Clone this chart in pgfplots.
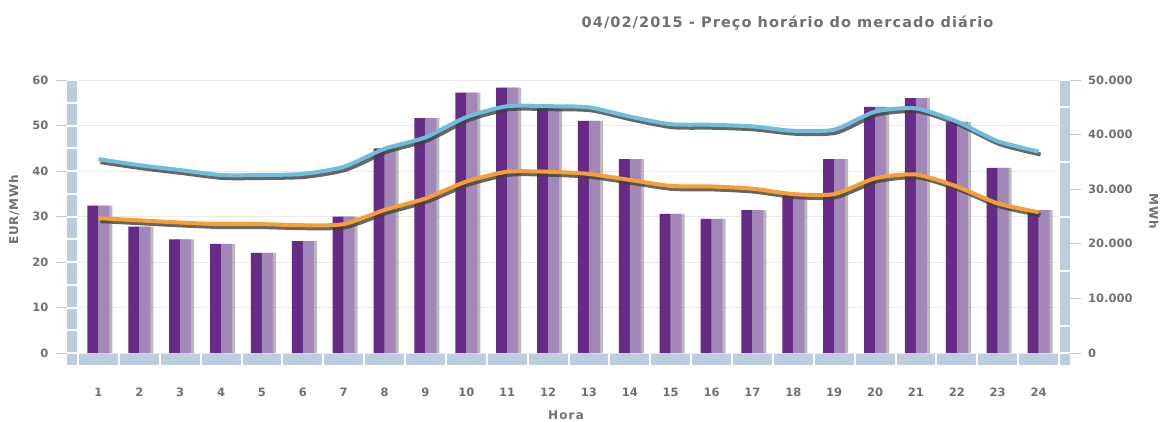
\documentclass[border=0pt]{standalone}
\usepackage{pgfplots}
\pgfplotsset{compat=1.18}
\usepackage{fontspec}
\setmainfont{DejaVu Sans}
\definecolor{dpurp}{RGB}{102,43,133}
\definecolor{lpurp}{RGB}{162,135,184}
\definecolor{lblue}{RGB}{110,190,222}
\definecolor{lorange}{RGB}{246,160,52}
\definecolor{strip}{RGB}{187,205,222}
\definecolor{gridc}{RGB}{234,234,234}
\definecolor{txt}{RGB}{112,112,112}
\begin{document}
\begin{tikzpicture}[x=1pt,y=1pt]
\useasboundingbox (0,0) rectangle (1165,421);
\begin{axis}[
  at={(78pt,68pt)}, anchor=south west,
  scale only axis, width=981pt, height=273pt,
  xmin=0.5, xmax=24.5, ymin=0, ymax=60,
  axis lines=none,
  clip=false,
  xtick=\empty, ytick=\empty,
]
\pgfplotsinvokeforeach{0,10,...,60}{
  \draw[gridc, line width=0.8pt] (axis cs:0.5,#1) -- (axis cs:24.5,#1);
  \draw[strip, line width=1pt] ([xshift=-22pt]axis cs:0.5,#1) -- ([xshift=-11pt]axis cs:0.5,#1);
  \node[anchor=east, inner sep=0pt, text=txt, font=\fontsize{11.5}{13}\selectfont\bfseries] at ([xshift=-29.5pt]axis cs:0.5,#1) {#1};
}
\pgfplotsinvokeforeach{0,5,...,55}{
  \fill[strip] ([xshift=-11pt,yshift=1pt]axis cs:0.5,#1) rectangle ([xshift=-1pt,yshift=-1pt]axis cs:0.5,#1+5);
}
\pgfplotsinvokeforeach{1,...,24}{
  \fill[strip] ([xshift=1pt,yshift=-1pt]axis cs:#1-0.5,0) rectangle ([xshift=-1pt,yshift=-12pt]axis cs:#1+0.5,0);
  \node[anchor=base, inner sep=0pt, text=txt, font=\fontsize{11.5}{13}\selectfont\bfseries] at ([yshift=-43pt]axis cs:#1,0) {#1};
}
\fill[strip] ([xshift=-11pt,yshift=-1pt]axis cs:0.5,0) rectangle ([xshift=-1pt,yshift=-12pt]axis cs:0.5,0);
\fill[strip] ([xshift=1pt,yshift=-1pt]axis cs:24.5,0) rectangle ([xshift=11pt,yshift=-12pt]axis cs:24.5,0);
% bar shadows
\addplot[ybar, bar width=20pt, bar shift=4pt, fill=black!45, draw=none, opacity=0.6] coordinates {
(1,32.4)(2,27.8)(3,25.0)(4,24.0)(5,22.0)(6,24.6)(7,30.0)(8,45.0)(9,51.6)(10,57.2)(11,58.3)(12,54.0)
(13,51.0)(14,42.6)(15,30.6)(16,29.5)(17,31.4)(18,34.8)(19,42.6)(20,54.1)(21,56.0)(22,50.8)(23,40.7)(24,31.4)};
\addplot[ybar, bar width=11pt, bar shift=-5.5pt, fill=dpurp, draw=none] coordinates {
(1,32.4)(2,27.8)(3,25.0)(4,24.0)(5,22.0)(6,24.6)(7,30.0)(8,45.0)(9,51.6)(10,57.2)(11,58.3)(12,54.0)
(13,51.0)(14,42.6)(15,30.6)(16,29.5)(17,31.4)(18,34.8)(19,42.6)(20,54.1)(21,56.0)(22,50.8)(23,40.7)(24,31.4)};
\addplot[ybar, bar width=11pt, bar shift=5.5pt, fill=lpurp, draw=none] coordinates {
(1,32.4)(2,27.8)(3,25.0)(4,24.0)(5,22.0)(6,24.6)(7,30.0)(8,45.0)(9,51.6)(10,57.2)(11,58.3)(12,54.0)
(13,51.0)(14,42.6)(15,30.6)(16,29.5)(17,31.4)(18,34.8)(19,42.6)(20,54.1)(21,56.0)(22,50.8)(23,40.7)(24,31.4)};
\end{axis}
\begin{axis}[
  at={(78pt,68pt)}, anchor=south west,
  scale only axis, width=981pt, height=273pt,
  xmin=0.5, xmax=24.5, ymin=0, ymax=50000,
  axis lines=none, clip=false,
  xtick=\empty, ytick=\empty,
]
\pgfplotsinvokeforeach{0,10000,20000,30000,40000,50000}{
  \draw[strip, line width=1pt] ([xshift=11pt]axis cs:24.5,#1) -- ([xshift=22pt]axis cs:24.5,#1);
}
\node[anchor=west, inner sep=0pt, text=txt, font=\fontsize{11.5}{13}\selectfont\bfseries] at ([xshift=29pt]axis cs:24.5,0) {0};
\node[anchor=west, inner sep=0pt, text=txt, font=\fontsize{11.5}{13}\selectfont\bfseries] at ([xshift=29pt]axis cs:24.5,10000) {10.000};
\node[anchor=west, inner sep=0pt, text=txt, font=\fontsize{11.5}{13}\selectfont\bfseries] at ([xshift=29pt]axis cs:24.5,20000) {20.000};
\node[anchor=west, inner sep=0pt, text=txt, font=\fontsize{11.5}{13}\selectfont\bfseries] at ([xshift=29pt]axis cs:24.5,30000) {30.000};
\node[anchor=west, inner sep=0pt, text=txt, font=\fontsize{11.5}{13}\selectfont\bfseries] at ([xshift=29pt]axis cs:24.5,40000) {40.000};
\node[anchor=west, inner sep=0pt, text=txt, font=\fontsize{11.5}{13}\selectfont\bfseries] at ([xshift=29pt]axis cs:24.5,50000) {50.000};
\fill[strip] ([xshift=1pt,yshift=-1pt]axis cs:24.5,50000) rectangle ([xshift=11pt,yshift=1pt]axis cs:24.5,45000);
\pgfplotsinvokeforeach{5000,15000,25000,35000}{
  \fill[strip] ([xshift=1pt,yshift=1pt]axis cs:24.5,#1) rectangle ([xshift=11pt,yshift=-1pt]axis cs:24.5,#1+10000);
}
\fill[strip] ([xshift=1pt,yshift=1pt]axis cs:24.5,0) rectangle ([xshift=11pt,yshift=-1pt]axis cs:24.5,5000);
% line shadows
\addplot[black!75, opacity=0.8, line width=4pt, smooth, tension=0.4, transform canvas={xshift=2pt,yshift=-3pt}] coordinates {
(1,35500)(2,34400)(3,33500)(4,32600)(5,32600)(6,32800)(7,34100)(8,37400)(9,39500)(10,43200)(11,45200)(12,45200)
(13,45000)(14,43300)(15,41900)(16,41800)(17,41500)(18,40700)(19,40900)(20,44200)(21,44800)(22,42400)(23,38800)(24,36900)};
\addplot[black!75, opacity=0.8, line width=4pt, smooth, tension=0.4, transform canvas={xshift=2pt,yshift=-3pt}] coordinates {
(1,24700)(2,24300)(3,23900)(4,23600)(5,23600)(6,23400)(7,23600)(8,26200)(9,28300)(10,31400)(11,33200)(12,33200)
(13,32800)(14,31700)(15,30600)(16,30500)(17,30100)(18,29100)(19,29100)(20,32000)(21,32700)(22,30500)(23,27400)(24,25800)};
\addplot[lblue, line width=4pt, smooth, tension=0.4] coordinates {
(1,35500)(2,34400)(3,33500)(4,32600)(5,32600)(6,32800)(7,34100)(8,37400)(9,39500)(10,43200)(11,45200)(12,45200)
(13,45000)(14,43300)(15,41900)(16,41800)(17,41500)(18,40700)(19,40900)(20,44200)(21,44800)(22,42400)(23,38800)(24,36900)};
\addplot[lorange, line width=4pt, smooth, tension=0.4] coordinates {
(1,24700)(2,24300)(3,23900)(4,23600)(5,23600)(6,23400)(7,23600)(8,26200)(9,28300)(10,31400)(11,33200)(12,33200)
(13,32800)(14,31700)(15,30600)(16,30500)(17,30100)(18,29100)(19,29100)(20,32000)(21,32700)(22,30500)(23,27400)(24,25800)};
\end{axis}
\node[text=txt, font=\fontsize{14.5}{16}\selectfont\bfseries\addfontfeatures{LetterSpace=7.5}] at (787.5,398) {04/02/2015 - Preço horário do mercado diário};
\node[text=txt, font=\fontsize{12}{13}\selectfont\bfseries\addfontfeatures{LetterSpace=6}, rotate=90] at (14,211) {EUR/MWh};
\node[text=txt, font=\fontsize{12}{13}\selectfont\bfseries\addfontfeatures{LetterSpace=6}, rotate=-90] at (1154,210) {MWh};
\node[text=txt, font=\fontsize{12}{13}\selectfont\bfseries\addfontfeatures{LetterSpace=10}] at (566,6) {Hora};
\end{tikzpicture}
\end{document}
